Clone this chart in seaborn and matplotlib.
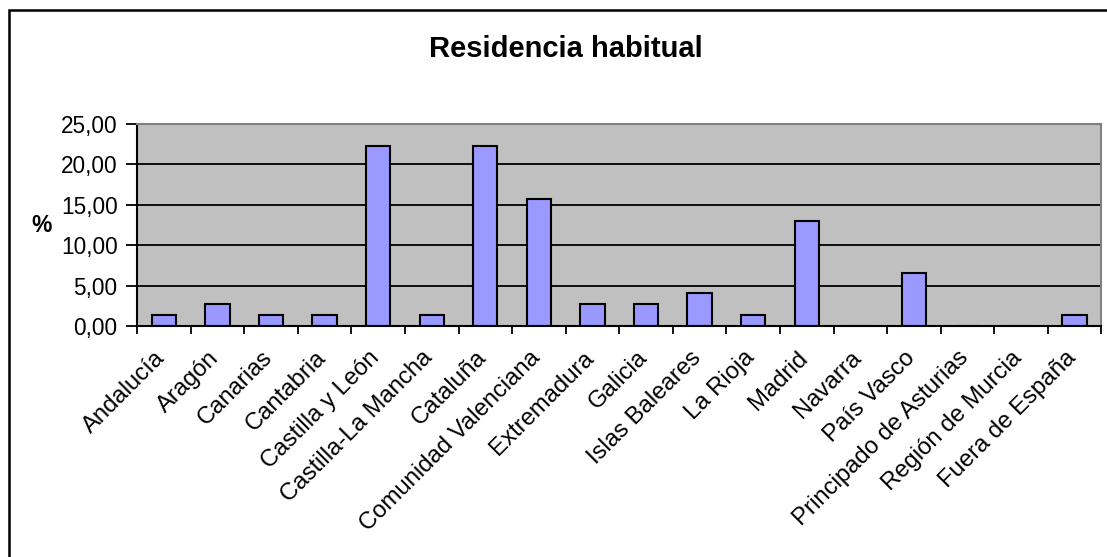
import numpy as np
import pandas as pd
import seaborn as sns
import matplotlib.pyplot as plt
from matplotlib.patches import Rectangle
from matplotlib.ticker import FuncFormatter, FixedLocator
from matplotlib.transforms import ScaledTranslation

# Datos
regiones = ["Andalucía", "Aragón", "Canarias", "Cantabria", "Castilla y León",
            "Castilla-La Mancha", "Cataluña", "Comunidad Valenciana", "Extremadura",
            "Galicia", "Islas Baleares", "La Rioja", "Madrid", "Navarra", "País Vasco",
            "Principado de Asturias", "Región de Murcia", "Fuera de España"]
porcentaje = [1.35, 2.70, 1.35, 1.35, 22.22, 1.35, 22.22, 15.70, 2.70,
              2.70, 4.05, 1.35, 13.04, 0.0, 6.52, 0.0, 0.0, 1.35]
y_ticks = [0, 5, 10, 15, 20, 25]

df = pd.DataFrame({"region": regiones, "pct": porcentaje})

plt.rcParams["font.family"] = ["Liberation Sans", "DejaVu Sans"]

fig = plt.figure(figsize=(11.07, 5.57), dpi=100)
ax = fig.add_axes([0.1238, 0.4147, 0.8712, 0.3627])

# marco exterior del grafico
fig.patches.append(Rectangle((9 / 1107, -0.1), 1.2, (557 - 10) / 557 + 0.1,
                             transform=fig.transFigure, fill=False,
                             edgecolor="black", linewidth=1.8, zorder=0))

ax.set_facecolor("#C0C0C0")
for y in y_ticks[1:-1]:
    ax.axhline(y, color="black", linewidth=1.3, zorder=1)

sns.barplot(data=df, x="region", y="pct", color="#9999FF", edgecolor="black",
            linewidth=1.5, width=0.455, saturation=1, ax=ax, zorder=2)

ax.set_xlim(-0.5, len(regiones) - 0.5)
ax.set_ylim(0, 25)
ax.set_yticks(y_ticks)
ax.yaxis.set_major_formatter(FuncFormatter(lambda v, p: f"{v:.2f}".replace(".", ",")))
ax.tick_params(axis="y", labelsize=16.3, length=8, width=1.3, direction="out", pad=6)

ax.set_xticks(range(len(regiones)))
ax.set_xticklabels(regiones, rotation=45, ha="right", va="top",
                   rotation_mode="anchor", fontsize=17.2)
ax.tick_params(axis="x", which="major", length=0, pad=15)
offset = ScaledTranslation(-10 / 100, 0, fig.dpi_scale_trans)
for lab in ax.get_xticklabels():
    lab.set_transform(lab.get_transform() + offset)
ax.xaxis.set_minor_locator(FixedLocator(np.arange(-0.5, len(regiones), 1.0)))
ax.tick_params(axis="x", which="minor", length=6, width=1.3, direction="out")

ax.set_xlabel("")
ax.set_ylabel("%", fontsize=16.5, fontweight="bold", rotation=0, labelpad=14, va="center")

for side in ["left", "bottom"]:
    ax.spines[side].set_color("black")
    ax.spines[side].set_linewidth(1.5)
for side in ["top", "right"]:
    ax.spines[side].set_color("#808080")
    ax.spines[side].set_linewidth(1.5)

fig.text(566 / 1107, 1 - 49 / 557, "Residencia habitual", ha="center", va="center",
         fontsize=21, fontweight="bold")

fig.savefig("out.png", dpi=100)
